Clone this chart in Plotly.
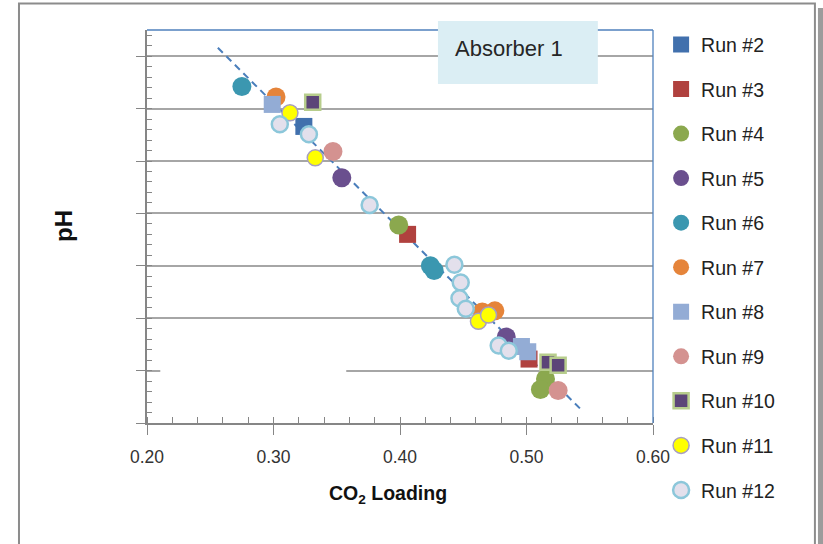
import plotly.graph_objects as go

# ---------------- data ----------------
run_names = ["Run #2", "Run #3", "Run #4", "Run #5", "Run #6", "Run #7",
             "Run #8", "Run #9", "Run #10", "Run #11", "Run #12"]

run2_x = [0.324]
run2_ph = [10.33]
run3_x = [0.406, 0.502]
run3_ph = [9.30, 8.11]
run4_x = [0.399, 0.515, 0.511]
run4_ph = [9.39, 7.92, 7.82]
run5_x = [0.354, 0.484]
run5_ph = [9.84, 8.32]
run6_x = [0.275, 0.424, 0.427]
run6_ph = [10.71, 9.00, 8.955]
run7_x = [0.302, 0.475, 0.465]
run7_ph = [10.61, 8.57, 8.56]
run8_x = [0.299, 0.496, 0.501]
run8_ph = [10.54, 8.23, 8.18]
run9_x = [0.347, 0.525]
run9_ph = [10.09, 7.81]
run10_x = [0.331, 0.517, 0.525]
run10_ph = [10.56, 8.08, 8.05]
run11_x = [0.313, 0.333, 0.462, 0.470]
run11_ph = [10.46, 10.03, 8.47, 8.53]
run12_x = [0.305, 0.328, 0.376, 0.443, 0.448, 0.447, 0.452, 0.478, 0.486]
run12_ph = [10.35, 10.255, 9.58, 9.01, 8.84, 8.69, 8.59, 8.24, 8.19]

trend_x = [0.256, 0.543]
trend_ph = [11.08, 7.63]

x_tick_vals = [0.20, 0.30, 0.40, 0.50, 0.60]
x_tick_text = ["0.20", "0.30", "0.40", "0.50", "0.60"]

# ---------------- styles ----------------
series = [
    (run_names[0], run2_x, run2_ph, "square", 17, "#4170AD", "#4170AD", 0),
    (run_names[1], run3_x, run3_ph, "square", 17, "#B0413E", "#B0413E", 0),
    (run_names[2], run4_x, run4_ph, "circle", 19, "#8BA84E", "#8BA84E", 0),
    (run_names[3], run5_x, run5_ph, "circle", 19, "#6A4F8E", "#6A4F8E", 0),
    (run_names[4], run6_x, run6_ph, "circle", 19, "#3B97B0", "#3B97B0", 0),
    (run_names[5], run7_x, run7_ph, "circle", 19, "#E5843A", "#E5843A", 0),
    (run_names[6], run8_x, run8_ph, "square", 17, "#93ACD5", "#93ACD5", 0),
    (run_names[7], run9_x, run9_ph, "circle", 19, "#D49290", "#D49290", 0),
    (run_names[8], run10_x, run10_ph, "square", 15, "#5C4578", "#B7CD8C", 2.5),
    (run_names[9], run11_x, run11_ph, "circle", 16, "#FFFF00", "#A89FC0", 1.5),
    (run_names[10], run12_x, run12_ph, "circle", 16, "#E3E0EC", "#8CC7DA", 2.5),
]

fig = go.Figure()

fig.add_trace(go.Scatter(
    x=trend_x, y=trend_ph, mode="lines", showlegend=False, hoverinfo="skip",
    line=dict(color="#4A7EBB", width=2, dash="7px,5px"),
))

for name, xs, ys, sym, size, fill, edge, lw in series:
    fig.add_trace(go.Scatter(
        x=xs, y=ys, mode="markers", name=name, legendgroup=name,
        marker=dict(symbol=sym, size=size, color=fill,
                    line=dict(color=edge, width=lw)),
    ))

axis_grey = "#868686"
sans = "Liberation Sans, Arial, sans-serif"

fig.update_layout(
    width=823, height=544, autosize=False,
    margin=dict(l=147, r=170, t=30, b=121),
    paper_bgcolor="white", plot_bgcolor="white",
    font=dict(family=sans, color="#222222"),
    xaxis=dict(
        range=[0.2, 0.6], tickvals=x_tick_vals, ticktext=x_tick_text,
        showgrid=False, zeroline=False,
        showline=True, linecolor=axis_grey, linewidth=1.5,
        ticks="outside", ticklen=10, tickwidth=1.2, tickcolor=axis_grey,
        minor=dict(dtick=0.02, tick0=0.2, ticks="inside", ticklen=6,
                   tickwidth=1.2, tickcolor=axis_grey, showgrid=False),
        tickfont=dict(family=sans, size=17.5, color="#333333"),
        ticklabelstandoff=7,
    ),
    yaxis=dict(
        range=[7.5, 11.25], dtick=0.5, tick0=7.5,
        showgrid=True, gridcolor="#A6A6A6", gridwidth=1.8,
        zeroline=False, showticklabels=False,
        showline=True, linecolor=axis_grey, linewidth=1.5,
        ticks="outside", ticklen=9, tickwidth=1.2, tickcolor=axis_grey,
        minor=dict(dtick=0.1, tick0=7.5, ticks="inside", ticklen=5,
                   tickwidth=1.2, tickcolor=axis_grey, showgrid=False),
    ),
    legend=dict(
        x=1.016, xanchor="left", y=1.012, yanchor="top",
        font=dict(family=sans, size=19.5, color="#222222"),
        tracegroupgap=16.2, itemsizing="trace", bgcolor="rgba(0,0,0,0)",
        maxheight=700,
    ),
    shapes=[
        # outer chart frame
        dict(type="rect", xref="paper", yref="paper",
             x0=-0.253, x1=1.320, y0=-0.45, y1=1.0674,
             line=dict(color="#8C8C8C", width=2), fillcolor="rgba(0,0,0,0)", layer="below"),
        dict(type="rect", xref="paper", yref="paper",
             x0=1.326, x1=1.345, y0=-0.45, y1=1.056,
             line=dict(width=0), fillcolor="#9C9C9C", layer="below"),
        # blue top / right plot border
        dict(type="line", xref="paper", yref="paper", x0=0, x1=1, y0=1, y1=1,
             line=dict(color="#4F81BD", width=1.3), layer="above"),
        dict(type="line", xref="paper", yref="paper", x0=1, x1=1, y0=0, y1=1,
             line=dict(color="#4F81BD", width=1.3), layer="above"),
        # gap in the pH 8.0 gridline
        dict(type="line", xref="x", yref="y", x0=0.2105, x1=0.3575, y0=8.0, y1=8.0,
             line=dict(color="white", width=3), layer="between"),
        # "Absorber 1" box
        dict(type="rect", xref="paper", yref="paper",
             x0=0.575, x1=0.891, y0=0.8626, y1=1.0229,
             line=dict(width=0), fillcolor="#DBEEF4", layer="above"),
    ],
    annotations=[
        dict(text="Absorber 1", xref="paper", yref="paper", x=0.605, y=0.953,
             xanchor="left", yanchor="middle", showarrow=False,
             font=dict(family=sans, size=22, color="#262626")),
        dict(text="<b>CO<sub>2</sub> Loading</b>", xref="paper", yref="paper",
             x=0.476, y=-0.183, xanchor="center", yanchor="middle", showarrow=False,
             font=dict(family=sans, size=19.5, color="#111111")),
        dict(text="<b>pH</b>", xref="paper", yref="paper",
             x=-0.165, y=0.5, xanchor="center", yanchor="middle", showarrow=False,
             textangle=-90,
             font=dict(family=sans, size=24, color="#111111")),
    ],
)

fig.write_html("out.html", config={"displayModeBar": False},
               post_script="document.body.style.margin='0px';")
